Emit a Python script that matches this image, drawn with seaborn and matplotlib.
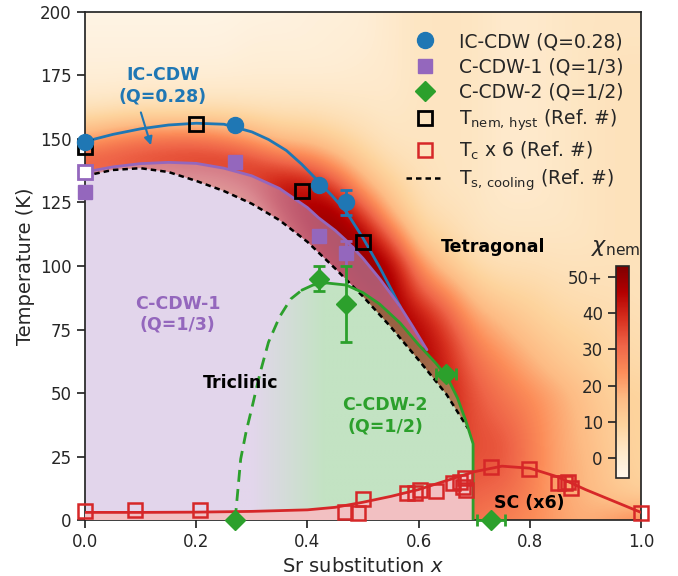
import numpy as np
import matplotlib
matplotlib.use("Agg")
import matplotlib.pyplot as plt
import seaborn as sns
from matplotlib.lines import Line2D
from matplotlib.patches import Polygon
from matplotlib.colors import to_rgb

sns.set_theme(style="ticks")
plt.rcParams["font.family"] = ["DejaVu Sans"]
plt.rcParams["mathtext.fontset"] = "dejavusans"

# -----------------------------
# nematic susceptibility map, read on a 0.05 x 10 K grid
# (one list per x column, T = 0, 10, ..., 200)
# -----------------------------
grid_x = [0.00, 0.05, 0.10, 0.15, 0.20, 0.25, 0.30, 0.35, 0.40, 0.45, 0.50,
          0.55, 0.60, 0.65, 0.70, 0.75, 0.80, 0.85, 0.90, 0.95, 1.00]
grid_T = [0, 10, 20, 30, 40, 50, 60, 70, 80, 90, 100,
          110, 120, 130, 140, 150, 160, 170, 180, 190, 200]
chi_cols = [
    [10, 10, 10, 10, 10, 10, 10, 10, 10, 10, 10, 8, 12, 22, 35, 20, 5, 0, -2, -3, -4],
    [10, 10, 10, 10, 10, 10, 10, 10, 10, 10, 10, 8, 12, 22, 35, 25, 6, 0, -2, -3, -4],
    [10, 10, 10, 10, 10, 10, 10, 10, 10, 10, 10, 8, 12, 22, 36, 28, 7, 1, -2, -3, -4],
    [10, 10, 10, 10, 10, 10, 10, 10, 10, 10, 10, 8, 12, 22, 37, 29, 7, 1, -2, -3, -4],
    [10, 10, 10, 10, 10, 10, 10, 10, 10, 10, 10, 8, 12, 23, 38, 29, 7, 1, -2, -3, -4],
    [12, 12, 12, 12, 12, 12, 12, 12, 12, 12, 12, 10, 14, 26, 39, 26, 7, 1, -2, -3, -4],
    [14, 14, 14, 14, 14, 14, 14, 14, 14, 14, 14, 14, 22, 34, 38, 21, 6, 1, -1, -2, -3],
    [20, 20, 20, 20, 20, 20, 20, 20, 20, 20, 24, 32, 40, 45, 33, 15, 5, 1, -1, -2, -3],
    [30, 30, 30, 30, 30, 30, 30, 30, 30, 36, 40, 44, 48, 45, 30, 14, 5, 1, -1, -2, -2],
    [36, 36, 36, 36, 36, 36, 36, 36, 40, 42, 46, 50, 50, 38, 22, 10, 4, 1, -1, -1, -2],
    [40, 40, 40, 40, 40, 40, 40, 42, 44, 48, 52, 50, 38, 22, 12, 6, 3, 1, 0, -1, -1],
    [42, 42, 42, 42, 42, 42, 44, 46, 49, 51, 48, 34, 18, 11, 6, 3, 2, 1, 1, 1, 1],
    [42, 42, 42, 42, 42, 44, 46, 47, 44, 33, 24, 12, 7, 5, 4, 3, 3, 3, 3, 3, 3],
    [32, 34, 36, 38, 40, 42, 41, 39, 33, 24, 13, 8, 5, 3, 3, 3, 3, 3, 3, 3, 3],
    [28, 31, 33, 34, 34, 33, 30, 26, 20, 13, 7, 4, 3, 3, 3, 3, 3, 3, 3, 3, 3],
    [26, 30, 33, 34, 31, 28, 25, 20, 15, 9, 5, 3, 2, 1, 1, 1, 1, 1, 1, 1, 1],
    [24, 26, 27, 27, 26, 24, 19, 15, 11, 8, 5, 3, 2, 1, 1, 1, 1, 1, 1, 1, 1],
    [21, 20, 20, 20, 20, 19, 14, 11, 8, 6, 4, 3, 2, 2, 2, 2, 2, 2, 2, 2, 2],
    [18, 17, 17, 16, 15, 14, 11, 9, 7, 5, 4, 3, 3, 3, 3, 3, 3, 3, 3, 3, 3],
    [22, 13, 12, 11, 11, 10, 8, 7, 6, 5, 4, 4, 4, 4, 4, 4, 4, 4, 4, 3, 3],
    [26, 10, 9, 9, 9, 9, 7, 6, 5, 4, 4, 4, 4, 4, 4, 4, 4, 4, 4, 3, 3],
]
cbar_ticks = [0, 10, 20, 30, 40, 50]
cbar_labels = ["0", "10", "20", "30", "40", "50+"]

# -----------------------------
# phase boundary lines
# -----------------------------
ic_line_x = [0.0, 0.05, 0.1, 0.15, 0.2, 0.25, 0.3, 0.33, 0.362, 0.39, 0.419,
             0.445, 0.471, 0.5, 0.53, 0.567]
ic_line_T = [149, 151.8, 154, 155.5, 156.2, 155.8, 152.8, 149.8, 145.5, 140, 133.5,
             127.5, 121, 111, 99.5, 84]

cdw1_line_x = [0.0, 0.05, 0.1, 0.15, 0.2, 0.25, 0.3, 0.35, 0.4, 0.42, 0.45, 0.47,
               0.5, 0.53, 0.567, 0.59, 0.615]
cdw1_line_T = [137, 139, 140.3, 140.8, 140.4, 138.5, 135.5, 130.5, 123, 119, 114, 110,
               103, 95, 84, 76, 67]

ts_line_x = [0.0, 0.05, 0.1, 0.15, 0.2, 0.25, 0.3, 0.35, 0.4, 0.45, 0.5, 0.55,
             0.6, 0.65, 0.689]
ts_line_T = [135.5, 137.8, 138.5, 137, 133.5, 129.5, 124.5, 118, 109.5, 99, 88, 76,
             63, 49.5, 36]

cdw2_dash_x = [0.27, 0.275, 0.28, 0.29, 0.30, 0.315, 0.33, 0.35, 0.37, 0.39]
cdw2_dash_T = [0, 12, 24, 35, 44, 58, 70, 80, 87, 90.5]
cdw2_solid_x = [0.39, 0.41, 0.435, 0.47, 0.5, 0.53, 0.567, 0.6, 0.63, 0.651,
                0.67, 0.685, 0.698, 0.698]
cdw2_solid_T = [90.5, 92.5, 93.3, 92.5, 89.5, 85, 77.5, 69, 62, 56.4,
                48, 39, 30, 0]

tc_line_x = [0.0, 0.1, 0.2, 0.3, 0.4, 0.45, 0.5, 0.55, 0.6, 0.65, 0.7, 0.75,
             0.8, 0.85, 0.9, 0.95, 1.0]
tc_line_T = [3, 3, 3.1, 3.4, 4.0, 5.0, 7.0, 9.3, 12.0, 15.5, 19, 21.2,
             20.4, 17, 12, 7.5, 3]

# -----------------------------
# measured points
# -----------------------------
ic_x = [0.0, 0.27, 0.42, 0.47]
ic_T = [149, 155.5, 132, 125]
ic_err = [0, 0, 0, 5]

cdw1_x = [0.0, 0.27, 0.42, 0.47]
cdw1_T = [129, 141, 112, 105]
cdw1_err = [0, 0, 0, 5]
cdw1_open_x = [0.0]
cdw1_open_T = [137]

cdw2_x = [0.27, 0.42, 0.47, 0.65, 0.73]
cdw2_T = [0, 95, 85, 57.5, 0]
cdw2_yerr = [0, 5, 15, 0, 0]
cdw2_xerr = [0, 0, 0, 0.018, 0.025]

nem_x = [0.0, 0.2, 0.39, 0.5]
nem_T = [147, 156, 129.5, 109.5]

tc_x = [0.0, 0.09, 0.207, 0.468, 0.491, 0.5, 0.579, 0.594, 0.603, 0.631, 0.661,
        0.674, 0.684, 0.68, 0.686, 0.73, 0.799, 0.851, 0.863, 0.869, 0.875, 1.0]
tc_T = [3.5, 3.9, 3.9, 3.3, 2.7, 8.2, 10.6, 10.8, 11.8, 11.5, 14.4,
        15.1, 16.4, 13.1, 11.8, 20.7, 20.2, 14.7, 14.7, 15.1, 12.7, 2.9]

legend_labels = ["IC-CDW (Q=0.28)", "C-CDW-1 (Q=1/3)", "C-CDW-2 (Q=1/2)",
                 r"T$_{\mathrm{nem,\,hyst}}$ (Ref. #)", r"T$_{\mathrm{c}}$ x 6 (Ref. #)",
                 r"T$_{\mathrm{s,\,cooling}}$ (Ref. #)"]

blue, purple, green, red = "#1f77b4", "#9467bd", "#2ca02c", "#d62728"
purple_fill, green_fill, red_fill = "#c7add9", "#87c787", "#f2c0c2"

fig = plt.figure(figsize=(6.78, 5.76), dpi=100)
ax = fig.add_axes([0.1254, 0.0972, 0.820, 0.882])

# heatmap
chi = np.array(chi_cols, dtype=float).T
dx = (grid_x[1] - grid_x[0]) / 2
dT = (grid_T[1] - grid_T[0]) / 2
im = ax.imshow(chi, extent=[grid_x[0] - dx, grid_x[-1] + dx, grid_T[0] - dT, grid_T[-1] + dT],
               origin="lower", aspect="auto", cmap="OrRd", vmin=-5.5, vmax=53,
               interpolation="bicubic", zorder=0)

# ordered region below T_s is blank
white_x = ts_line_x + [0.698, 0.698, 0.0]
white_T = ts_line_T + [30, 0, 0]
ax.fill(white_x, white_T, color="white", lw=0, zorder=1)

# C-CDW-1 region (below purple line, outside the C-CDW-2 dome)
dome_x = cdw2_dash_x + cdw2_solid_x[1:]
dome_T = cdw2_dash_T + cdw2_solid_T[1:]
back = [(x, t) for x, t in zip(dome_x[::-1], dome_T[::-1]) if x < cdw1_line_x[-1]]
p1_x = cdw1_line_x + [b[0] for b in back] + [0.0]
p1_T = cdw1_line_T + [b[1] for b in back] + [0.0]
ax.fill(p1_x, p1_T, color=purple_fill, alpha=0.5, lw=0, zorder=2)

# C-CDW-2 dome with purple -> green fade
gx = np.linspace(0.27, 0.70, 300)
t = np.clip((gx - 0.30) / 0.13, 0, 1)[:, None]
rgba = np.ones((1, gx.size, 4))
rgba[0, :, :3] = (1 - t) * np.array(to_rgb(purple_fill)) + t * np.array(to_rgb(green_fill))
rgba[0, :, 3] = 0.5
grad = ax.imshow(rgba, extent=[0.27, 0.70, 0, 100], aspect="auto", zorder=2,
                 interpolation="bilinear")
dome_patch = Polygon(np.column_stack([dome_x, dome_T]), closed=True,
                     facecolor="none", edgecolor="none", transform=ax.transData)
ax.add_patch(dome_patch)
grad.set_clip_path(dome_patch)

# SC dome fill up to x = 0.698
sc_x = [x for x in tc_line_x if x < 0.698]
sc_T = tc_line_T[:len(sc_x)]
edge_T = float(np.interp(0.698, tc_line_x, tc_line_T))
ax.fill(sc_x + [0.698, 0.698, 0.0], sc_T + [edge_T, 0, 0], color=red_fill, lw=0, zorder=3)

# lines
sns.lineplot(x=ic_line_x, y=ic_line_T, ax=ax, color=blue, lw=2, sort=False,
             estimator=None, zorder=4)
sns.lineplot(x=cdw1_line_x, y=cdw1_line_T, ax=ax, color=purple, lw=2, sort=False,
             estimator=None, zorder=4)
sns.lineplot(x=ts_line_x, y=ts_line_T, ax=ax, color="black", lw=1.8, sort=False,
             estimator=None, zorder=4, dashes=False, linestyle=(0, (2.2, 1.6)))
sns.lineplot(x=cdw2_dash_x, y=cdw2_dash_T, ax=ax, color=green, lw=2, sort=False,
             estimator=None, zorder=4, linestyle=(0, (4.3, 2.6)))
sns.lineplot(x=cdw2_solid_x, y=cdw2_solid_T, ax=ax, color=green, lw=2, sort=False,
             estimator=None, zorder=4)
sns.lineplot(x=tc_line_x, y=tc_line_T, ax=ax, color=red, lw=2, sort=False,
             estimator=None, zorder=4)

# markers
ax.plot(tc_x, tc_T, ls="none", marker="s", ms=10, mfc="none", mec=red, mew=1.8,
        zorder=5, clip_on=False)
ax.plot(nem_x, nem_T, ls="none", marker="s", ms=10, mfc="none", mec="black", mew=2,
        zorder=6, clip_on=False)

def with_err(x, y, err):
    m = np.array(err) > 0
    return np.array(x)[m], np.array(y)[m], np.array(err)[m]

ex, ey, ee = with_err(ic_x, ic_T, ic_err)
ax.errorbar(ex, ey, yerr=ee, fmt="none", ecolor=blue, elinewidth=2, capsize=4,
            capthick=2, zorder=6)
ax.plot(ic_x, ic_T, ls="none", marker="o", ms=11.5, color=blue, zorder=7, clip_on=False)

ex, ey, ee = with_err(cdw1_x, cdw1_T, cdw1_err)
ax.errorbar(ex, ey, yerr=ee, fmt="none", ecolor=purple, elinewidth=2, capsize=4,
            capthick=2, zorder=6)
ax.plot(cdw1_x, cdw1_T, ls="none", marker="s", ms=10.5, color=purple, zorder=7,
        clip_on=False)
ax.plot(cdw1_open_x, cdw1_open_T, ls="none", marker="s", ms=10.5, mfc="white",
        mec=purple, mew=2, zorder=7, clip_on=False)

ex, ey, ee = with_err(cdw2_x, cdw2_T, cdw2_yerr)
ax.errorbar(ex, ey, yerr=ee, fmt="none", ecolor=green, elinewidth=2, capsize=4,
            capthick=2, zorder=6)
ex, ey, ee = with_err(cdw2_x, cdw2_T, cdw2_xerr)
ax.errorbar(ex, ey, xerr=ee, fmt="none", ecolor=green, elinewidth=2, capsize=4,
            capthick=2, zorder=6, clip_on=False)
ax.plot(cdw2_x, cdw2_T, ls="none", marker="D", ms=10, color=green, zorder=7,
        clip_on=False)

# labels in the diagram
bold = dict(fontsize=12.5, fontweight="bold", ha="center", va="center", zorder=8)
ax.text(0.14, 171, "IC-CDW\n(Q=0.28)", color=blue, **bold)
ax.annotate("", xy=(0.12, 146.5), xytext=(0.099, 161.5),
            arrowprops=dict(arrowstyle="-|>", color=blue, lw=1.5, mutation_scale=12),
            zorder=8)
ax.text(0.167, 81, "C-CDW-1\n(Q=1/3)", color=purple, **bold)
ax.text(0.279, 54, "Triclinic", color="black", **bold)
ax.text(0.54, 41, "C-CDW-2\n(Q=1/2)", color=green, **bold)
ax.text(0.734, 107.5, "Tetragonal", color="black", **bold)
ax.text(0.799, 6.7, "SC (x6)", color="black", **bold)

# legend
handles = [
    Line2D([], [], ls="none", marker="o", ms=11.5, color=blue),
    Line2D([], [], ls="none", marker="s", ms=10.5, color=purple),
    Line2D([], [], ls="none", marker="D", ms=10, color=green),
    Line2D([], [], ls="none", marker="s", ms=10, mfc="none", mec="black", mew=2),
    Line2D([], [], ls="none", marker="s", ms=10, mfc="none", mec=red, mew=1.8),
    Line2D([], [], color="black", lw=1.8, ls=(0, (2.2, 1.6))),
]
ax.legend(handles, legend_labels, loc="upper right", bbox_to_anchor=(0.995, 0.99),
          frameon=False, fontsize=13.5, handletextpad=0.8, labelspacing=0.33,
          borderaxespad=0.4, handlelength=2.0)

# colorbar
cax = ax.inset_axes([0.955, 0.083, 0.023, 0.417])
cb = fig.colorbar(im, cax=cax, ticks=cbar_ticks)
cb.outline.set_linewidth(1.2)
cax.yaxis.set_ticks_position("left")
cax.set_yticklabels(cbar_labels, fontsize=12)
cax.text(0.0, 1.04, r"$\chi_{\mathrm{nem}}$", transform=cax.transAxes, ha="center",
         va="bottom", fontsize=16)

ax.set_xlim(0, 1)
ax.set_ylim(0, 200)
ax.set_xticks([0.0, 0.2, 0.4, 0.6, 0.8, 1.0])
ax.set_yticks([0, 25, 50, 75, 100, 125, 150, 175, 200])
ax.tick_params(labelsize=12)
ax.set_xlabel(r"Sr substitution $x$", fontsize=14)
ax.set_ylabel("Temperature (K)", fontsize=14)

fig.savefig("out.png", dpi=100)
